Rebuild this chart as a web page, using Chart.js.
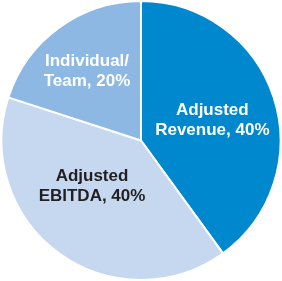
<!DOCTYPE html>
<html>
<head>
<meta charset="utf-8">
<script src="https://cdn.jsdelivr.net/npm/chart.js@4.4.0/dist/chart.umd.min.js"></script>
<style>
  html, body { margin: 0; padding: 0; background: #ffffff; }
  #wrap { width: 282px; height: 281px; }
</style>
</head>
<body>
<div id="wrap"><canvas id="payMixChart"></canvas></div>
<script>
const labels = [["Adjusted", "Revenue, 40%"], ["Adjusted", "EBITDA, 40%"], ["Individual/", "Team, 20%"]];
const shares = [40, 40, 20];
const sliceColors = ["#0088cf", "#c5d8f0", "#8db8e3"];
const textColors = ["#ffffff", "#231f20", "#ffffff"];

// nudges from the slice centre point to where the labels sit
const labelNudge = [[5, 1], [-8, -11], [-13, -13]];

const sliceLabels = {
  id: "sliceLabels",
  afterDatasetsDraw(chart) {
    const ctx = chart.ctx;
    const meta = chart.getDatasetMeta(0);
    ctx.save();
    ctx.font = "bold 17px 'Liberation Sans', Arial, sans-serif";
    ctx.textAlign = "center";
    ctx.textBaseline = "middle";
    meta.data.forEach((arc, i) => {
      const pos = arc.tooltipPosition();
      const x = pos.x + labelNudge[i][0];
      const y = pos.y + labelNudge[i][1];
      ctx.fillStyle = textColors[i];
      const lines = chart.data.labels[i];
      lines.forEach((line, j) => {
        ctx.fillText(line, x, y + (j - (lines.length - 1) / 2) * 20);
      });
    });
    ctx.restore();
  }
};

new Chart(document.getElementById("payMixChart").getContext("2d"), {
  type: "pie",
  data: {
    labels,
    datasets: [
      {
        data: shares,
        backgroundColor: sliceColors,
        borderColor: "#ffffff",
        borderWidth: 2
      }
    ]
  },
  options: {
    responsive: true,
    maintainAspectRatio: false,
    animation: false,
    layout: { padding: 0 },
    plugins: {
      legend: { display: false },
      tooltip: { enabled: false }
    }
  },
  plugins: [sliceLabels]
});
</script>
</body>
</html>
